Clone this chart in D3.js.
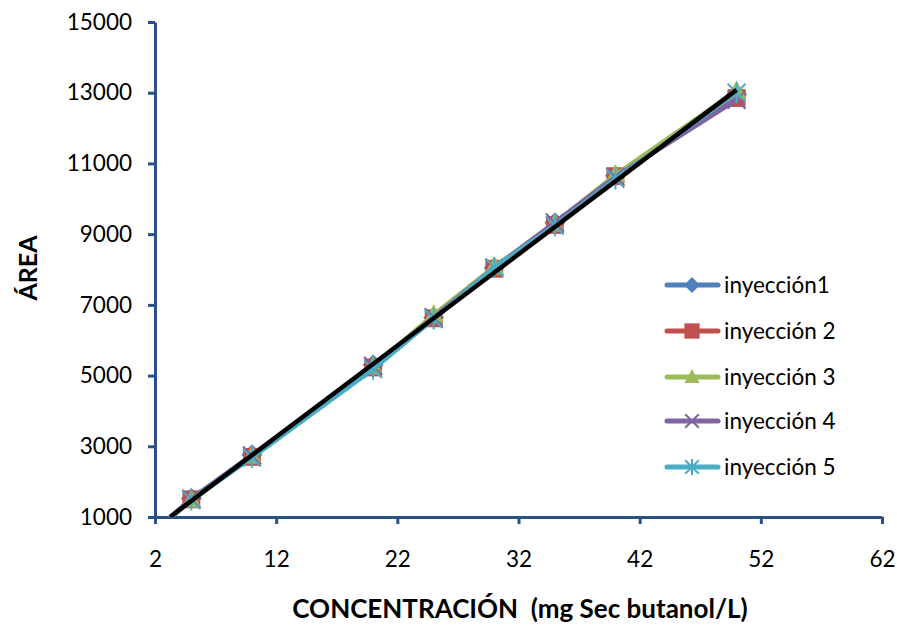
<!DOCTYPE html>
<html>
<head>
<meta charset="utf-8">
<script src="https://cdn.jsdelivr.net/npm/d3@7/dist/d3.min.js"></script>
<style>
  html, body { margin: 0; padding: 0; background: #fff; }
  svg { display: block; }
  text { font-family: Lato, "Open Sans", "Liberation Sans", sans-serif; fill: #000; }
</style>
</head>
<body>
<svg id="chart" width="897" height="625"></svg>
<script>
// Concentration levels (mg Sec butanol/L); 0 is the blank
const concentrations = [0, 5, 10, 20, 25, 30, 35, 40, 50];

// Peak areas for each of the five injections
const inyeccion1 = [0, 1520, 2760, 5300, 6640, 8050, 9320, 10650, 12950];
const inyeccion2 = [0, 1500, 2700, 5230, 6620, 8020, 9260, 10640, 12850];
const inyeccion3 = [0, 1490, 2730, 5250, 6720, 8080, 9300, 10680, 13050];
const inyeccion4 = [0, 1510, 2740, 5280, 6650, 8050, 9330, 10620, 12800];
const inyeccion5 = [0, 1480, 2680, 5180, 6600, 8060, 9240, 10560, 13000];

const seriesNames = ["inyección1", "inyección 2", "inyección 3", "inyección 4", "inyección 5"];
const seriesColors = ["#4F81BD", "#C0504D", "#9BBB59", "#8064A2", "#4BACC6"];
const seriesMarkers = ["diamond", "square", "triangle", "x", "star"];

// Linear calibration trend line (two end points)
const trendX = [3.24, 50];
const trendY = [1000, 13080];

// Axis ticks
const xTicks = [2, 12, 22, 32, 42, 52, 62];
const yTicks = [1000, 3000, 5000, 7000, 9000, 11000, 13000, 15000];

const allSeries = [inyeccion1, inyeccion2, inyeccion3, inyeccion4, inyeccion5];

(function () {
  const svg = d3.select("#chart");
  const mLeft = 155, mRight = 882, mTop = 22, mBottom = 517;
  const axisColor = "#2A5087";

  const x = d3.scaleLinear().domain([2, 62]).range([mLeft, mRight]);
  const y = d3.scaleLinear().domain([1000, 15000]).range([mBottom, mTop]);

  svg.append("defs").append("clipPath").attr("id", "plot")
    .append("rect").attr("x", mLeft).attr("y", mTop)
    .attr("width", mRight - mLeft).attr("height", mBottom - mTop);

  function marker(g, type, color, s) {
    if (type === "diamond") {
      g.append("path").attr("d", `M0,${-s}L${s},0L0,${s}L${-s},0Z`).attr("fill", color);
    } else if (type === "square") {
      g.append("rect").attr("x", -s * 0.85).attr("y", -s * 0.85)
        .attr("width", s * 1.7).attr("height", s * 1.7).attr("fill", color);
    } else if (type === "triangle") {
      g.append("path").attr("d", `M0,${-s}L${s * 0.95},${s * 0.75}L${-s * 0.95},${s * 0.75}Z`).attr("fill", color);
    } else if (type === "x") {
      const d = s * 0.85;
      g.append("path").attr("d", `M${-d},${-d}L${d},${d}M${d},${-d}L${-d},${d}`)
        .attr("stroke", color).attr("stroke-width", 2).attr("fill", "none");
    } else if (type === "star") {
      const d = s * 0.85;
      g.append("path").attr("d", `M${-d},${-d}L${d},${d}M${d},${-d}L${-d},${d}M0,${-s}L0,${s}`)
        .attr("stroke", color).attr("stroke-width", 2).attr("fill", "none");
    }
  }

  // Axes
  const yAxis = svg.append("g").attr("transform", `translate(${mLeft},0)`)
    .call(d3.axisLeft(y).tickValues(yTicks).tickSize(7).tickSizeOuter(0).tickPadding(16).tickFormat(d3.format("d")));
  const xAxis = svg.append("g").attr("transform", `translate(0,${mBottom})`)
    .call(d3.axisBottom(x).tickValues(xTicks).tickSize(7).tickSizeOuter(0).tickPadding(27).tickFormat(d3.format("d")));
  [yAxis, xAxis].forEach(a => {
    a.select(".domain").attr("stroke", axisColor).attr("stroke-width", 3);
    a.selectAll(".tick line").attr("stroke", axisColor).attr("stroke-width", 3);
    a.selectAll(".tick text").attr("font-size", 22.5).attr("fill", "#000")
      .style("font-family", "Lato, 'Open Sans', sans-serif");
  });

  // Series lines and markers
  const plot = svg.append("g").attr("clip-path", "url(#plot)");
  const line = d3.line().x(d => x(d[0])).y(d => y(d[1]));

  allSeries.forEach((vals, i) => {
    const pts = concentrations.map((c, j) => [c, vals[j]]);
    plot.append("path").datum(pts).attr("d", line)
      .attr("fill", "none").attr("stroke", seriesColors[i]).attr("stroke-width", 4.5)
      .attr("stroke-linejoin", "round");
    pts.filter(p => p[0] > 0).forEach(p => {
      const g = plot.append("g").attr("transform", `translate(${x(p[0])},${y(p[1])})`);
      marker(g, seriesMarkers[i], seriesColors[i], 10.5);
    });
  });

  // Trend line
  plot.append("path").datum(trendX.map((v, i) => [v, trendY[i]])).attr("d", line)
    .attr("fill", "none").attr("stroke", "#000").attr("stroke-width", 4.5);

  // Legend
  const legendY = [285, 331, 377, 421, 467];
  seriesNames.forEach((name, i) => {
    const g = svg.append("g").attr("transform", `translate(0,${legendY[i]})`);
    g.append("line").attr("x1", 667).attr("x2", 718).attr("y1", 0).attr("y2", 0)
      .attr("stroke", seriesColors[i]).attr("stroke-width", 5).attr("stroke-linecap", "round");
    const m = g.append("g").attr("transform", "translate(692,0)");
    marker(m, seriesMarkers[i], seriesColors[i], seriesMarkers[i] === "square" ? 9 : 8);
    g.append("text").attr("x", 724).attr("y", 0).attr("dy", "0.35em")
      .attr("font-size", 22.5).text(name);
  });

  // Axis titles
  svg.append("text").attr("x", 520).attr("y", 618).attr("text-anchor", "middle")
    .attr("font-size", 26).attr("font-weight", "bold")
    .style("white-space", "pre")
    .text("CONCENTRACIÓN  (mg Sec butanol/L)");
  svg.append("text").attr("transform", "translate(37,268) rotate(-90)")
    .attr("text-anchor", "middle").attr("font-size", 25).attr("font-weight", "bold")
    .text("ÁREA");
})();
</script>
</body>
</html>
